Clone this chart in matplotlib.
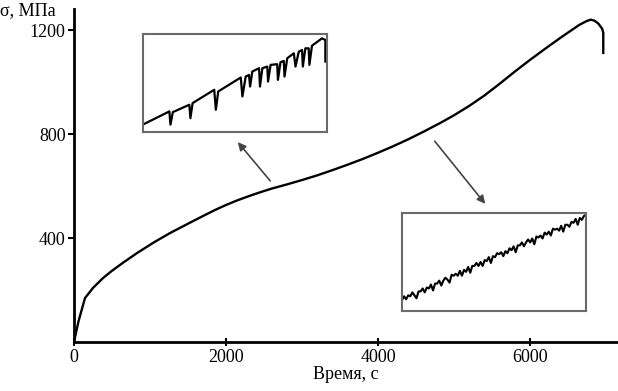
import matplotlib
matplotlib.use("Agg")
import matplotlib.pyplot as plt
import numpy as np

plt.rcParams['font.family'] = ['Liberation Serif', 'DejaVu Serif']

# main curve: time (s) vs stress (MPa)
time_s = [0, 60, 145, 250, 382, 500, 650, 829, 1050, 1263, 1500, 1700, 1850, 2000,
          2150, 2300, 2450, 2600, 2800, 3000, 3200, 3400, 3600, 3800, 4000, 4200,
          4400, 4600, 4816, 5000, 5200, 5400, 5600, 5800, 6000, 6200, 6400, 6550,
          6650, 6750, 6800, 6850, 6900, 6950, 6965, 6965]
stress = [0, 80, 169, 208, 246, 274, 306, 342, 383, 419, 455, 485, 507, 527,
          545, 561, 576, 590, 606, 623, 641, 661, 682, 704, 728, 753,
          780, 809, 842, 872, 908, 948, 993, 1040, 1085, 1128, 1170, 1200,
          1220, 1235, 1240, 1236, 1225, 1205, 1190, 1112]

x_ticks = [0, 2000, 4000, 6000]
y_ticks = [400, 800, 1200]

# inset 1 (serrations, early stage) - normalised inset coords
ins1_x = [0, 0.139, 0.145, 0.158, 0.248, 0.254, 0.266, 0.384, 0.393, 0.406, 0.529,
          0.538, 0.556, 0.574, 0.580, 0.592, 0.629, 0.634, 0.647, 0.674, 0.678,
          0.692, 0.728, 0.732, 0.746, 0.764, 0.768, 0.783, 0.819, 0.828, 0.846,
          0.864, 0.868, 0.882, 0.900, 0.904, 0.918, 0.973, 0.991, 0.991]
ins1_y = [0.081, 0.210, 0.075, 0.203, 0.278, 0.142, 0.295, 0.431, 0.227, 0.414, 0.556,
          0.363, 0.566, 0.583, 0.464, 0.617, 0.651, 0.464, 0.651, 0.668, 0.515,
          0.685, 0.692, 0.532, 0.712, 0.725, 0.566, 0.753, 0.803, 0.668, 0.820,
          0.837, 0.668, 0.854, 0.854, 0.685, 0.881, 0.956, 0.939, 0.719]

# inset 2 (fine noise, later stage)
ins2_y = [0.11, 0.15, 0.12, 0.16, 0.15, 0.19, 0.16, 0.13, 0.20, 0.20,
          0.23, 0.19, 0.24, 0.23, 0.27, 0.21, 0.28, 0.28, 0.31, 0.26,
          0.31, 0.34, 0.32, 0.29, 0.37, 0.36, 0.38, 0.36, 0.41, 0.36,
          0.42, 0.40, 0.45, 0.39, 0.46, 0.46, 0.49, 0.46, 0.50, 0.46,
          0.52, 0.51, 0.55, 0.49, 0.56, 0.55, 0.59, 0.58, 0.60, 0.56,
          0.61, 0.59, 0.64, 0.62, 0.66, 0.60, 0.67, 0.67, 0.70, 0.66,
          0.70, 0.73, 0.70, 0.74, 0.68, 0.76, 0.75, 0.77, 0.74, 0.80,
          0.78, 0.81, 0.77, 0.84, 0.83, 0.84, 0.82, 0.87, 0.81, 0.88,
          0.88, 0.86, 0.91, 0.90, 0.94, 0.88, 0.95, 0.93, 0.97, 0.98]

fig = plt.figure(figsize=(6.18, 3.91), dpi=100)
ax = fig.add_axes([0.1197, 0.1253, 0.8786, 0.8517])
ax.plot(time_s, stress, color='black', lw=1.7, solid_joinstyle='round')
ax.set_xlim(0, 7145)
ax.set_ylim(0, 1281)
ax.set_xticks(x_ticks)
ax.set_yticks(y_ticks)
for s in ['top', 'right']:
    ax.spines[s].set_visible(False)
for s in ['left', 'bottom']:
    ax.spines[s].set_linewidth(2)
ax.tick_params(axis='x', direction='inout', length=6, width=1.5, labelsize=13, pad=2)
ax.tick_params(axis='y', direction='out', length=4, width=1.5, labelsize=13, pad=2)
ax.set_xlabel('Время, с', fontsize=13, labelpad=0)
fig.text(0.0, 1 - 11 / 391, 'σ, МПа', fontsize=13, va='center', ha='left')

# insets
box_color = '#6a6a6a'
in1 = fig.add_axes([0.2314, 0.6624, 0.2977, 0.2506])
in1.plot(ins1_x, ins1_y, color='black', lw=1.6)
in1.set_xlim(-0.005, 1.0)
in1.set_ylim(0, 1)
in2 = fig.add_axes([0.6505, 0.2046, 0.2977, 0.2506])
in2.plot(np.arange(len(ins2_y)), ins2_y, color='black', lw=1.5)
in2.set_xlim(0, len(ins2_y) - 1)
in2.set_ylim(0, 1)
for a in (in1, in2):
    a.set_xticks([])
    a.set_yticks([])
    for s in a.spines.values():
        s.set_color(box_color)
        s.set_linewidth(1.5)

arrow = dict(arrowstyle='-|>', color='#444444', lw=1.2, mutation_scale=12)
fig.patches.append(matplotlib.patches.FancyArrowPatch(
    (0.4401, 0.532), (0.3819, 0.642), transform=fig.transFigure, **arrow))
fig.patches.append(matplotlib.patches.FancyArrowPatch(
    (0.7006, 0.6445), (0.788, 0.473), transform=fig.transFigure, **arrow))

fig.savefig('out.png', dpi=100)
